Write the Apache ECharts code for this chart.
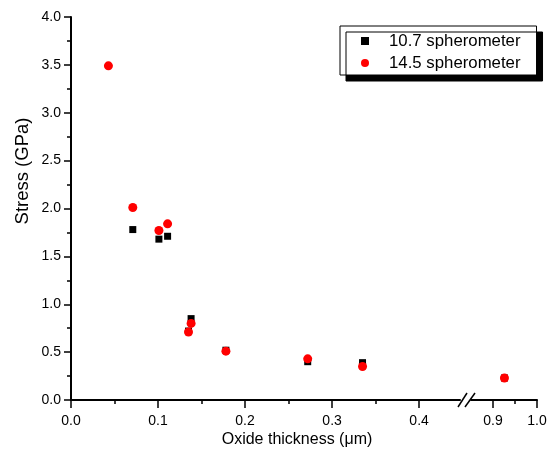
<!DOCTYPE html>
<html>
<head>
<meta charset="utf-8">
<script src="https://cdn.jsdelivr.net/npm/echarts@6/dist/echarts.min.js"></script>
<style>
  html, body { margin: 0; padding: 0; background: #fff; }
  #chart { width: 555px; height: 454px; }
</style>
</head>
<body>
<div id="chart"></div>
<script>
// values
const seriesNames = ['10.7 spherometer', '14.5 spherometer'];
const thickBlack = [0.071, 0.101, 0.111, 0.135, 0.138, 0.178, 0.272, 0.335, 0.926];
const stressBlack = [1.78, 1.68, 1.71, 0.72, 0.85, 0.52, 0.40, 0.39, 0.23];
const thickRed = [0.043, 0.071, 0.101, 0.111, 0.135, 0.138, 0.178, 0.272, 0.335, 0.926];
const stressRed = [3.49, 2.01, 1.77, 1.84, 0.71, 0.80, 0.51, 0.43, 0.35, 0.23];
const leftMajor = [0, 0.1, 0.2, 0.3, 0.4];
const leftMinor = [0.05, 0.15, 0.25, 0.35];
const rightMajor = [0.9, 1.0];
const rightMinor = [0.95];
const breakAt = 0.5;

const font = 'Liberation Sans, Arial, sans-serif';
const chart = echarts.init(document.getElementById('chart'));

function pairs(xs, ys, right) {
  const out = [];
  xs.forEach((x, i) => {
    if ((x > breakAt) === right) out.push([x, ys[i]]);
  });
  return out;
}

function xAxisFor(grid, min, max, ticks, isMinor) {
  return {
    type: 'value',
    gridIndex: grid,
    position: 'bottom',
    min: min,
    max: max,
    splitLine: { show: false },
    axisLine: { show: !isMinor, onZero: false, lineStyle: { color: '#000', width: 2 } },
    axisTick: {
      show: true,
      customValues: ticks,
      length: isMinor ? 4 : 8,
      lineStyle: { color: '#000', width: 1.5 }
    },
    axisLabel: {
      show: !isMinor,
      customValues: ticks,
      formatter: v => v.toFixed(1),
      color: '#000',
      fontFamily: font,
      fontSize: 14,
      margin: 14
    }
  };
}

const series = [];
[[thickBlack, stressBlack, 'rect', 7, '#000'], [thickRed, stressRed, 'circle', 9, '#ff0000']]
  .forEach((s, k) => {
    [false, true].forEach(right => {
      series.push({
        type: 'scatter',
        name: seriesNames[k],
        xAxisIndex: right ? 2 : 0,
        yAxisIndex: right ? 1 : 0,
        symbol: s[2],
        symbolSize: s[3],
        itemStyle: { color: s[4], opacity: 1 },
        data: pairs(s[0], s[1], right)
      });
    });
  });

chart.setOption({
  animation: false,
  backgroundColor: '#fff',
  grid: [
    { left: 71, right: 95, top: 17, bottom: 54 },
    { left: 471, right: 18, top: 17, bottom: 54 }
  ],
  xAxis: [
    xAxisFor(0, 0, 0.447, leftMajor, false),
    xAxisFor(0, 0, 0.447, leftMinor, true),
    xAxisFor(1, 0.85, 1.0, rightMajor, false),
    xAxisFor(1, 0.85, 1.0, rightMinor, true)
  ],
  yAxis: [
    {
      type: 'value',
      gridIndex: 0,
      min: 0,
      max: 4,
      interval: 0.5,
      splitLine: { show: false },
      axisLine: { show: true, lineStyle: { color: '#000', width: 2 } },
      axisTick: { length: 7, lineStyle: { color: '#000', width: 1.5 } },
      minorTick: { show: true, splitNumber: 2, length: 4, lineStyle: { color: '#000', width: 1.5 } },
      axisLabel: {
        formatter: v => v.toFixed(1),
        color: '#000',
        fontFamily: font,
        fontSize: 14,
        margin: 10
      }
    },
    { type: 'value', gridIndex: 1, min: 0, max: 4, show: false }
  ],
  legend: {
    left: 340,
    top: 26,
    orient: 'vertical',
    itemWidth: 38,
    itemHeight: 8,
    itemGap: 4,
    padding: [6, 16, 3, 21],
    backgroundColor: '#fff',
    borderColor: '#000',
    borderWidth: 1,
    shadowColor: '#000',
    shadowBlur: 0,
    shadowOffsetX: 6,
    shadowOffsetY: 6,
    textStyle: { color: '#000', fontFamily: font, fontSize: 16.8, lineHeight: 18 },
    data: [
      { name: seriesNames[0], icon: 'path://M0 0H10V10H0Z' },
      { name: seriesNames[1], icon: 'circle' }
    ]
  },
  graphic: [
    { type: 'line', shape: { x1: 458, y1: 407, x2: 467, y2: 393 }, style: { stroke: '#000', lineWidth: 1.5 } },
    { type: 'line', shape: { x1: 465, y1: 407, x2: 475, y2: 393 }, style: { stroke: '#000', lineWidth: 1.5 } },
    {
      type: 'text', x: 297, y: 440,
      style: { text: 'Oxide thickness (\u03bcm)', fill: '#000', font: '16px ' + font, textAlign: 'center', textVerticalAlign: 'middle' }
    },
    {
      type: 'text', x: 23, y: 171, rotation: Math.PI / 2,
      style: { text: 'Stress (GPa)', fill: '#000', font: '18.5px ' + font, textAlign: 'center', textVerticalAlign: 'middle' }
    }
  ],
  series: series
});
</script>
</body>
</html>
